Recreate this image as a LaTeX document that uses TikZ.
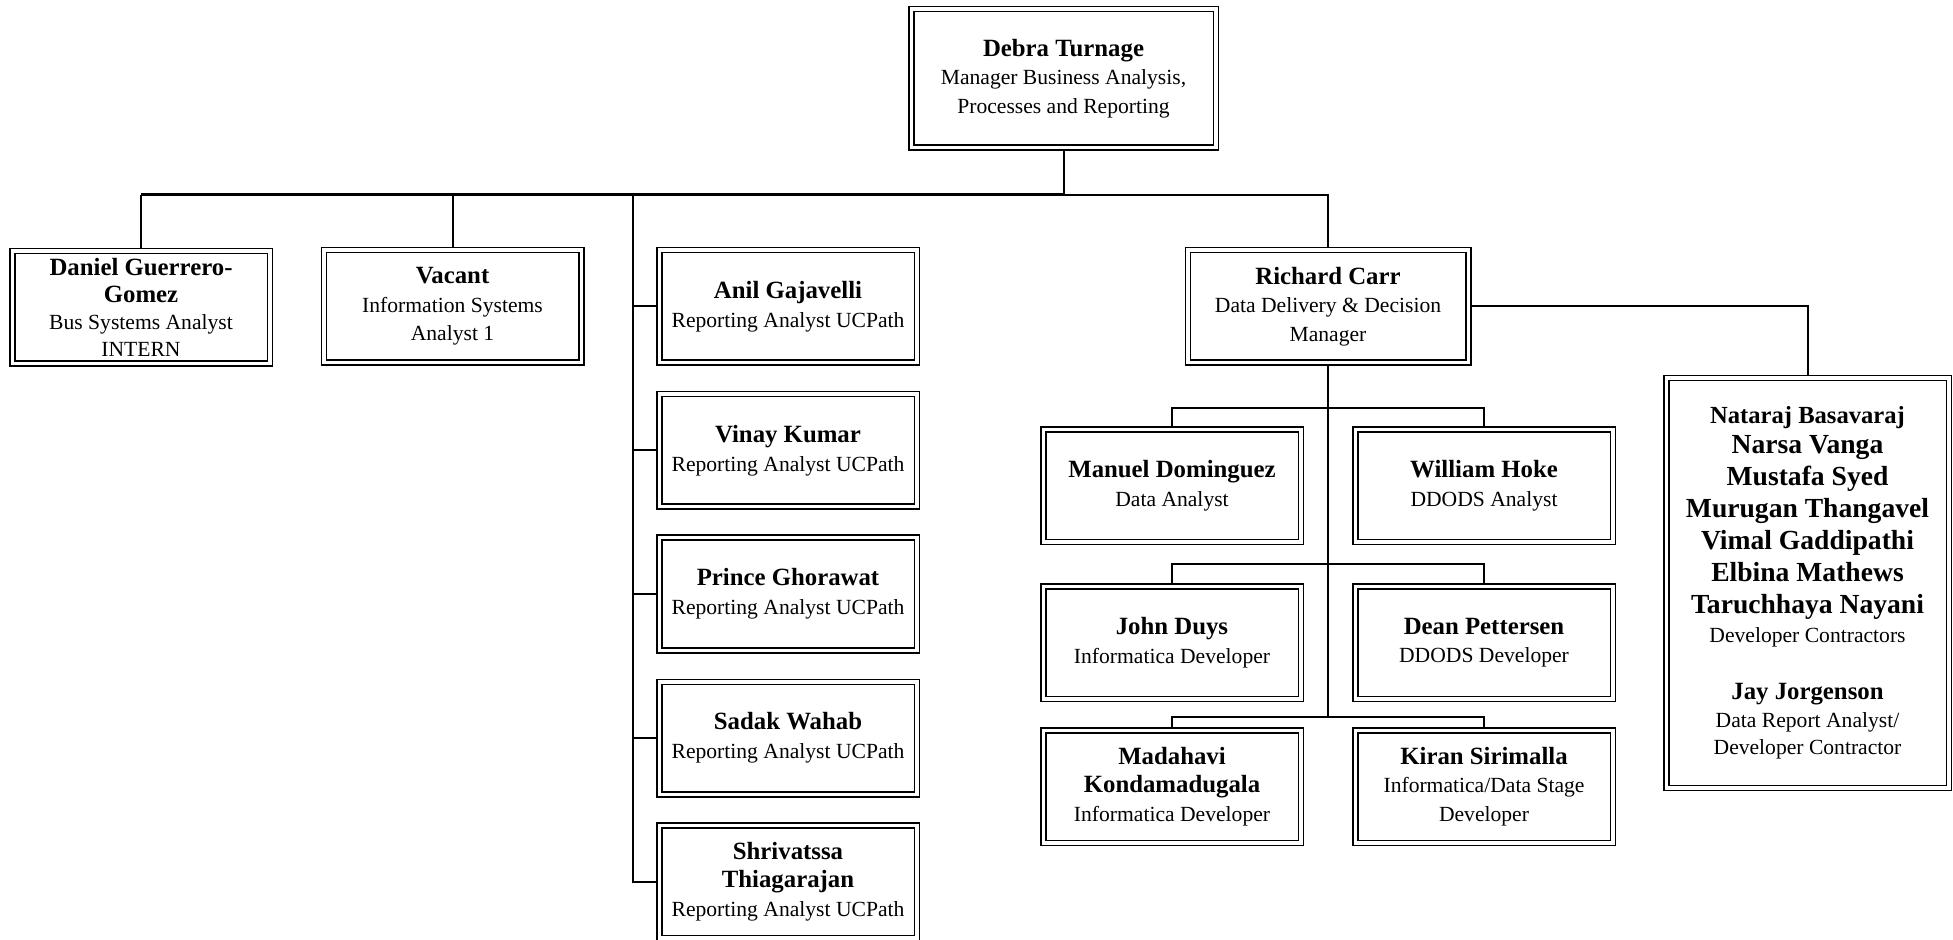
\documentclass[tikz,border=0pt]{standalone}
\usepackage{fontspec}
\setmainfont{Liberation Serif}
\usetikzlibrary{backgrounds}
\newcommand\nm[1]{{\fontsize{12.4}{14.3}\selectfont\bfseries #1}}
\newcommand\regf{\fontsize{10.8}{14.3}\selectfont\mdseries}
\newcommand\tightf{\fontsize{10.8}{13.6}\selectfont\mdseries}
\begin{document}
\begin{tikzpicture}[x=0.5pt,y=-0.5pt,
  box/.style={draw=black, double=white, line width=0.75pt, double distance=1.75pt,
    fill=white, inner sep=0pt, align=center, font=\regf,
    minimum width=128.75pt, minimum height=56.25pt},
  conn/.style={line width=1pt},
  busline/.style={line width=1.5pt}]
\useasboundingbox (0,0) rectangle (1953,940);
% nodes
\node[box, minimum width=152.25pt, minimum height=69.25pt] (deb) at (1063.5,78.5)
  {\nm{Debra Turnage}\\Manager Business Analysis,\\Processes and Reporting};
\node[box, font=\tightf] (dan) at (141,307.5) {{\fontsize{12.4}{13.6}\selectfont\bfseries Daniel Guerrero-}\\{\fontsize{12.4}{13.6}\selectfont\bfseries Gomez}\\Bus Systems Analyst\\INTERN};
\node[box] (vac) at (452.5,306.5) {\nm{Vacant}\\Information Systems\\Analyst 1};
\node[box] (ani) at (788,306.5) {\nm{Anil Gajavelli}\\Reporting Analyst UCPath};
\node[box] (vin) at (788,450.5) {\nm{Vinay Kumar}\\Reporting Analyst UCPath};
\node[box] (pri) at (788,594) {\nm{Prince Ghorawat}\\Reporting Analyst UCPath};
\node[box] (sad) at (788,738) {\nm{Sadak Wahab}\\Reporting Analyst UCPath};
\node[box] (shr) at (788,881.5) {\nm{Shrivatssa}\\\nm{Thiagarajan}\\Reporting Analyst UCPath};
\node[box, minimum width=140.25pt] (ric) at (1328,306.5)
  {\nm{Richard Carr}\\Data Delivery \& Decision\\Manager};
\node[box] (man) at (1172,486) {\nm{Manuel Dominguez}\\Data Analyst};
\node[box] (wil) at (1484,486) {\nm{William Hoke}\\DDODS Analyst};
\node[box] (joh) at (1172,642.5) {\nm{John Duys}\\Informatica Developer};
\node[box] (dea) at (1484,642.5) {\nm{Dean Pettersen}\\DDODS Developer};
\node[box] (mad) at (1172,786.5) {\nm{Madahavi}\\\nm{Kondamadugala}\\Informatica Developer};
\node[box] (kir) at (1484,786.5) {\nm{Kiran Sirimalla}\\Informatica/Data Stage\\Developer};
\node[box, minimum width=141.25pt, minimum height=204.75pt,
  font=\fontsize{13.8}{16}\selectfont\bfseries] (con) at (1807.5,583)
  {{\fontsize{12.3}{16}\selectfont Nataraj Basavaraj}\\[-1pt]
   Narsa Vanga\\Mustafa Syed\\Murugan Thangavel\\Vimal Gaddipathi\\Elbina Mathews\\
   Taruchhaya Nayani\\[-1.5pt]
   {\regf Developer Contractors}\\[12.5pt]
   {\fontsize{12.4}{14}\selectfont Jay Jorgenson}\\[-2.3pt]
   {\regf Data Report Analyst/}\\[-2.3pt]
   {\regf Developer Contractor}};
% helper coordinates
\coordinate (busY) at (0,195);
\coordinate (colX) at (633,0);
\coordinate (r1) at (0,408);
\coordinate (r2) at (0,564);
\coordinate (r3) at (0,717);
\begin{scope}[on background layer]
  \draw[conn] (deb.south) -- (deb.south |- busY);
  \draw[busline] (dan.north |- busY) -- (deb.south |- busY);
  \draw[conn] (deb.south |- busY) -| (ric.north);
  \draw[conn] (dan.north) -- (dan.north |- busY);
  \draw[conn] (vac.north) -- (vac.north |- busY);
  \draw[conn] (colX |- busY) -- (colX |- shr.west) -- (shr.west);
  \draw[conn] (colX |- ani.west) -- (ani.west);
  \draw[conn] (colX |- vin.west) -- (vin.west);
  \draw[conn] (colX |- pri.west) -- (pri.west);
  \draw[conn] (colX |- sad.west) -- (sad.west);
  \draw[conn] (ric.east) -| (con.north);
  \draw[conn] (ric.south) -- (ric.south |- r3);
  \draw[conn] (man.north) -- (man.north |- r1) -- (wil.north |- r1) -- (wil.north);
  \draw[conn] (joh.north) -- (joh.north |- r2) -- (dea.north |- r2) -- (dea.north);
  \draw[conn] (mad.north) -- (mad.north |- r3) -- (kir.north |- r3) -- (kir.north);
\end{scope}
\end{tikzpicture}
\end{document}
